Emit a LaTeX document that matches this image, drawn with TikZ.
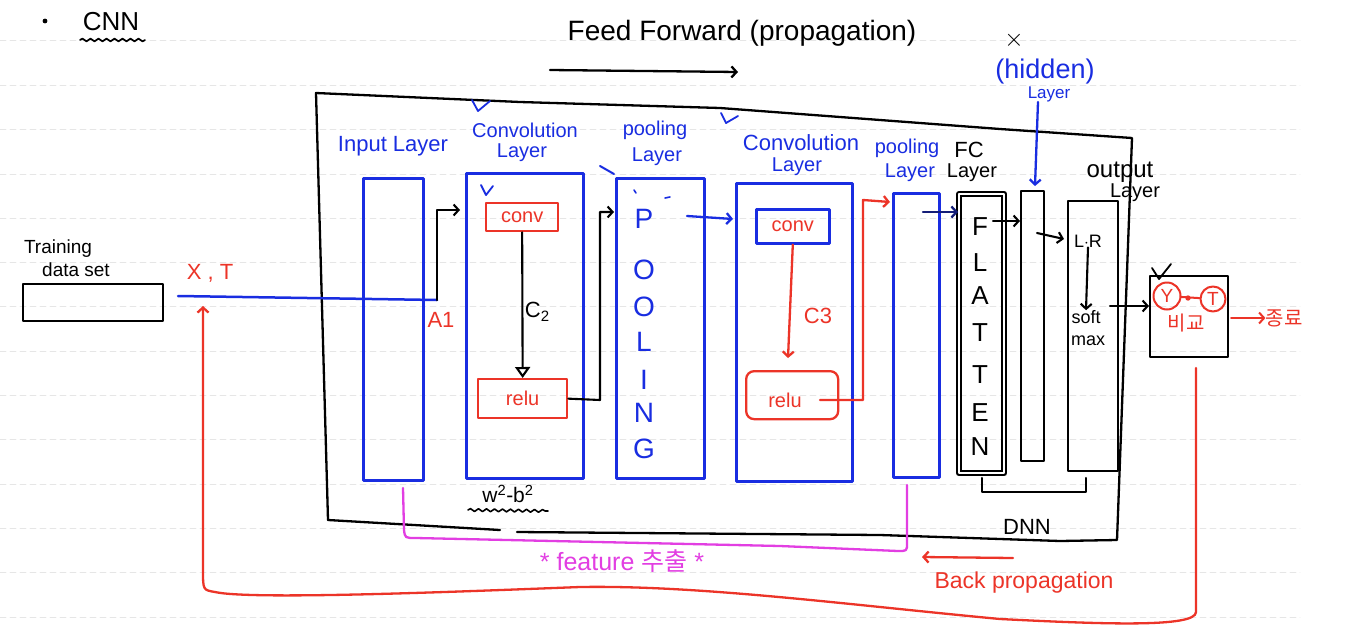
\documentclass[tikz,border=0pt]{standalone}
\usepackage{fontspec}
\setmainfont{Liberation Sans}
\newfontfamily\kr{Noto Sans CJK KR}
\usetikzlibrary{arrows.meta,decorations.pathmorphing,calc}
\definecolor{hblue}{RGB}{25,45,225}
\definecolor{hred}{RGB}{236,52,40}
\definecolor{hmag}{RGB}{226,62,226}
\definecolor{rule}{RGB}{230,230,230}
\begin{document}
\begin{tikzpicture}[x=1pt,y=-1pt,line cap=round,line join=round,
  lay/.style={draw=hblue,line width=2.6pt,inner sep=0pt,anchor=north west},
  rbox/.style={draw=hred,line width=2.3pt,inner sep=0pt,anchor=north west},
  kbox/.style={draw=black,line width=2.3pt,inner sep=0pt,anchor=north west},
  arr/.style={-{Straight Barb[length=5pt,width=11pt]}},
  tarr/.style={-{Triangle[open,length=11pt,width=15pt]}},
  bl/.style={text=hblue,inner sep=0pt,font=\fontsize{20}{20}\selectfont},
  rl/.style={text=hred,inner sep=0pt,font=\fontsize{20}{20}\selectfont},
  kl/.style={text=black,inner sep=0pt,font=\fontsize{20}{20}\selectfont},
  ml/.style={text=hmag,inner sep=0pt,font=\fontsize{25}{25}\selectfont},
  big/.style={inner sep=0pt,font=\fontsize{28}{28}\selectfont},
  wav/.style={decorate,decoration={snake,amplitude=1.4pt,segment length=8pt}},
  chk/.style={line width=1.8pt}]
\useasboundingbox (0,0) rectangle (1362,640);
\fill[white] (0,0) rectangle (1362,640);
% notebook rules
\foreach \yy in {40,85,129,174,218,262,306,351,395,439,484,528,572,617}
  \draw[rule,line width=0.8pt,dash pattern=on 6pt off 4pt] (0,\yy) -- (1300,\yy);

% title
\fill (45,21) circle (2.4pt);
\coordinate (bullet) at (45,21);
\node[kl,font=\fontsize{26}{26}\selectfont] (cnn) at (111,22) {CNN};
\draw[line width=1.7pt,wav] (80,40) -- (145,40);
\node[kl,font=\fontsize{28}{28}\selectfont] (ff) at (742,33) {Feed Forward (propagation)};
\coordinate (ffa) at (550,70); \coordinate (ffb) at (738,72);
\draw[line width=2.3pt,arr] (ffa) -- (ffb);

% outer frame
\draw[line width=2.3pt] (328,520) -- (316,93) -- (520,102) -- (720,108) -- (1000,129) -- (1132,138) -- (1117,540) -- (1060,541) -- (880,535) -- (517,532);
\draw[line width=2.3pt] (500,530) -- (328,520);
\node[kl,font=\fontsize{22}{22}\selectfont] (dnn) at (1027,527) {DNN};

% layer labels
\node[bl,font=\fontsize{22}{22}\selectfont] (linp) at (393,146) {Input Layer};
\node[bl] (lc1a) at (525,130) {Convolution};
\node[bl] (lc1b) at (522,153) {Layer};
\node[bl] (lp1a) at (655,130) {pooling};
\node[bl] (lp1b) at (657,157) {Layer};
\node[bl,font=\fontsize{22}{22}\selectfont] (lc2a) at (801,143) {Convolution};
\node[bl] (lc2b) at (797,167) {Layer};
\node[bl] (lp2a) at (907,148) {pooling};
\node[bl] (lp2b) at (910,173) {Layer};
\node[kl,font=\fontsize{22}{22}\selectfont] (lfca) at (969,150) {FC};
\node[kl] (lfcb) at (972,173) {Layer};
\node[kl,font=\fontsize{24}{24}\selectfont] (loua) at (1120,172) {output};
\node[kl] (loub) at (1135,193) {Layer};
\node[kl,font=\fontsize{26}{26}\selectfont] (xmark) at (1014,40) {$\times$};
\node[bl,font=\fontsize{27}{27}\selectfont] (hid) at (1045,72) {(hidden)};
\node[bl,font=\fontsize{17}{17}\selectfont] (hidl) at (1049,94) {Layer};

% check marks
\draw[hblue,chk] (472,100) -- (478,111);
\draw[hblue,chk] (478,111) -- (490,101);
\draw[hblue,chk] (721,113) -- (726,123);
\draw[hblue,chk] (726,123) -- (738,116);
\draw[hblue,chk] (481,185) -- (486,195);
\draw[hblue,chk] (486,195) -- (493,186);
\draw[chk] (1152,268) -- (1159,279);
\draw[chk] (1159,279) -- (1171,264);

% layer boxes
\node[lay,minimum width=60pt,minimum height=302pt] (inp) at (362,177) {};
\node[lay,minimum width=117pt,minimum height=305pt] (conv1) at (465,172) {};
\node[lay,minimum width=88pt,minimum height=300pt] (pool1) at (615,177) {};
\node[lay,minimum width=116pt,minimum height=298pt] (conv2) at (735,182) {};
\node[lay,minimum width=46pt,minimum height=284pt] (pool2) at (892,192) {};
\node[kbox,double,double distance=2pt,minimum width=45pt,minimum height=279pt] (flat) at (958,193) {};
\node[kbox,minimum width=23pt,minimum height=270pt] (hidden) at (1020,190) {};
\node[kbox,minimum width=50pt,minimum height=270pt] (outl) at (1067,200) {};
\node[kbox,minimum width=78pt,minimum height=81pt] (cmp) at (1149,275) {};
\node[kbox,minimum width=140pt,minimum height=37pt] (train) at (22,283) {};

% training data
\node[kl,font=\fontsize{19}{19}\selectfont] (ltr1) at (58,249) {Training};
\node[kl,font=\fontsize{19}{19}\selectfont] (ltr2) at (76,270) {data set};
\node[rl,font=\fontsize{22}{22}\selectfont] (xt) at (210,273) {X , T};
\node[rl,font=\fontsize{22}{22}\selectfont] (a1) at (441,320) {A1};
\coordinate (xs) at (178,296);
\coordinate (xc) at (437,300);
\coordinate (c1in) at (460,210);
\draw[hblue,line width=2.5pt] (xs) -- (xc);
\draw[line width=2.1pt,arr] (xc) |- (c1in);

% conv layer 1
\node[rbox,minimum width=72pt,minimum height=28pt] (cv1) at (485,202) {};
\node[rl] (cv1t) at (cv1.center) {conv};
\node[rbox,minimum width=89pt,minimum height=39pt] (re1) at (477,378) {};
\node[rl] (re1t) at (re1.center) {relu};
\draw[line width=2.1pt,tarr] (cv1.south) -- (re1.north);
\node[kl,font=\fontsize{22}{22}\selectfont] (c2) at (537,312) {C\raisebox{-4pt}{\fontsize{15}{15}\selectfont 2}};
\coordinate (p1in) at (614,212);
\draw[line width=2.1pt,arr] (re1.east) -- (600,400) |- (p1in);

% pooling 1
\foreach \ch/\yy in {P/219,O/270,O/307,L/342,I/380,N/413,G/449}
  \node[big,text=hblue] at (644,\yy) {\ch};
\draw[hblue,line width=1.6pt] (634,190) -- (636,193) (665,198) -- (670,197);
\draw[hblue,line width=2pt] (600,166) -- (614,174);
\coordinate (p1o) at (687,216); \coordinate (c2in) at (733,219);
\draw[hblue,line width=2.3pt,arr] (p1o) -- (c2in);

% conv layer 2
\node[lay,minimum width=73pt,minimum height=34pt] (cv2) at (755,208) {};
\node[rl] (cv2t) at (cv2.center) {conv};
\node[rbox,minimum width=92pt,minimum height=48pt,rounded corners=8pt] (re2) at (745,370) {};
\node[rl] (re2t) at (785,400) {relu};
\coordinate (re2a) at (788,358);
\draw[hred,line width=2.3pt,arr] (cv2.south) -- (re2a);
\node[rl,font=\fontsize{22}{22}\selectfont] (c3) at (818,316) {C3};
\coordinate (re2o) at (820,400); \coordinate (p2in) at (890,202);
\draw[hred,line width=2.3pt,arr] (re2o) -- (863,400) -- (863,200) -- (p2in);

% pooling 2 -> flatten
\coordinate (p2o) at (923,212);
\draw[line width=2.3pt,draw={rgb,255:red,20;green,30;blue,120},arr] (p2o) -- (flat.west |- p2o);
\foreach \ch/\yy in {F/227,L/263,A/296,T/333,T/375,E/413,N/447}
  \node[big,font=\fontsize{26}{26}\selectfont] at (980,\yy) {\ch};
\coordinate (fo) at (993,221);
\draw[line width=2.1pt,arr] (fo) -- (hidden.west |- fo);
\coordinate (ho) at (1037,233); \coordinate (oin) at (1064,239);
\draw[line width=2.1pt,arr] (ho) -- (oin);

% output layer
\node[kl,font=\fontsize{18}{18}\selectfont] (lr) at (1088,241) {L$\cdot$R};
\node[kl,font=\fontsize{18}{18}\selectfont] (soft) at (1086,317) {soft};
\node[kl,font=\fontsize{18}{18}\selectfont] (mx) at (1088,341) {max};
\draw[line width=2.1pt,arr] (lr.south) -- (soft.north);
\coordinate (oo) at (1110,306);
\draw[line width=2.1pt,arr] (oo) -- (cmp.west |- oo);
\coordinate (dnna) at (982,478); \coordinate (dnnb) at (1086,478);
\draw[line width=2.1pt] (dnna) -- (982,492) -- (1086,492) -- (dnnb);

% hidden annotation
\coordinate (ha) at (1038,102); \coordinate (hb) at (1035,186);
\draw[hblue,line width=2.3pt,arr] (ha) -- (hb);

% compare box
\node[draw=hred,line width=2pt,circle,minimum size=27pt,inner sep=0pt,text=hred,font=\fontsize{19}{19}\selectfont] (ycir) at (1167,296) {Y};
\node[draw=hred,line width=2pt,circle,minimum size=25pt,inner sep=0pt,text=hred,font=\fontsize{19}{19}\selectfont] (tcir) at (1213,299) {T};
\draw[hred,line width=2pt] (ycir) -- (tcir);
\fill[hred] (1188,298) circle (2.7pt);
\node[rl,font=\kr\fontsize{20}{20}\selectfont] (bigyo) at (1186,323) {비교};
\node[rl,font=\kr\fontsize{20}{20}\selectfont] (end) at (1284,318) {종료};
\coordinate (ca) at (1231,318);
\draw[hred,line width=2pt,arr] (ca) -- (end.west);

% w b
\node[kl,font=\fontsize{21}{21}\selectfont] (wb) at (508,494) {w\textsuperscript{2}-b\textsuperscript{2}};
\draw[line width=1.6pt,wav] (468,510) -- (548,511);

% feature bracket
\draw[hmag,line width=2.3pt] (403,488) -- (404,530) .. controls (405,538) .. (416,538) -- (780,546) -- (898,551) .. controls (907,551) .. (907,543) -- (907,485);
\node[ml] (feat) at (622,561) {* feature {\kr 추출} *};

% back propagation
\coordinate (bpa) at (1013,558); \coordinate (bpb) at (922,557);
\draw[hred,line width=2.3pt,arr] (bpa) -- (bpb);
\node[rl,font=\fontsize{23}{23}\selectfont] (bp) at (1024,583) {Back propagation};
\coordinate (bps) at (1196,368); \coordinate (xtin) at (203,306);
\draw[hred,line width=2.3pt,arr] (bps) -- (1196,612) .. controls (1196,628) and (1100,624) .. (1000,619) .. controls (850,605) and (700,585) .. (580,587) .. controls (450,592) and (250,600) .. (215,592) .. controls (203,590) .. (203,570) -- (xtin);
\end{tikzpicture}
\end{document}
